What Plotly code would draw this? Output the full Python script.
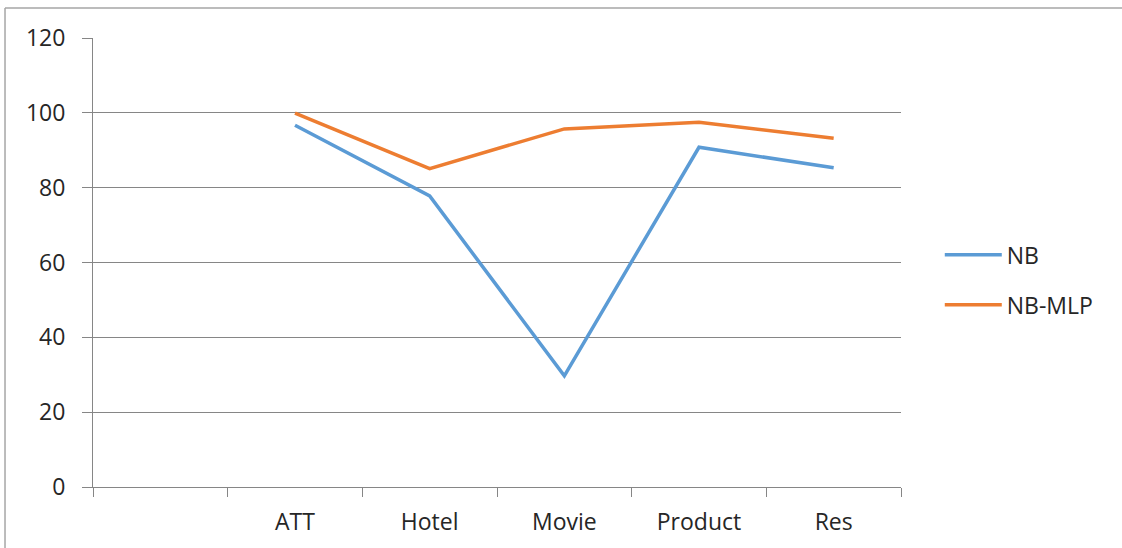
import plotly.graph_objects as go

categories = [" ", "ATT", "Hotel", "Movie", "Product", "Res"]
datasets = ["ATT", "Hotel", "Movie", "Product", "Res"]
nb = [96.7, 77.8, 29.7, 90.8, 85.3]
nb_mlp = [99.9, 85.1, 95.7, 97.5, 93.2]
y_ticks = [0, 20, 40, 60, 80, 100, 120]

FONT = "Open Sans"
FS = 23
fig = go.Figure()
fig.add_trace(go.Scatter(x=datasets, y=nb, mode="lines", name="NB", legendgroup="a",
                         line=dict(color="#5B9BD5", width=3.5)))
fig.add_trace(go.Scatter(x=datasets, y=nb_mlp, mode="lines", name="NB-MLP", legendgroup="b",
                         line=dict(color="#ED7D31", width=3.5)))

fig.update_layout(
    width=1122, height=548,
    margin=dict(l=93, r=221, t=38, b=61),
    paper_bgcolor="white", plot_bgcolor="white",
    font=dict(family=FONT, size=FS, color="#262626"),
    showlegend=True,
    legend=dict(x=1.048, y=0.565, xanchor="left", yanchor="top",
                traceorder="grouped", tracegroupgap=17, itemwidth=57,
                font=dict(family=FONT, size=FS, color="#262626"),
                bgcolor="rgba(0,0,0,0)"),
    xaxis=dict(type="category", categoryorder="array", categoryarray=categories,
               range=[-0.5, 5.5], showgrid=False, showline=True, linecolor="#868686",
               linewidth=1, ticks="outside", tickson="boundaries", ticklen=9,
               tickcolor="#868686", zeroline=False, fixedrange=True,
               ticklabelstandoff=14,
               tickfont=dict(family=FONT, size=FS, color="#262626")),
    yaxis=dict(range=[0, 120], tickvals=y_ticks, showgrid=True, gridcolor="#868686",
               gridwidth=1, showline=True, linecolor="#868686", linewidth=1,
               ticks="outside", ticklen=10, tickcolor="#868686", zeroline=False,
               ticklabelstandoff=12,
               tickfont=dict(family=FONT, size=FS, color="#262626")),
    shapes=[
        dict(type="line", xref="paper", yref="paper", x0=-0.1089, x1=1.28, y0=1.0668, y1=1.0668,
             line=dict(color="#A6A6A6", width=1.5)),
        dict(type="line", xref="paper", yref="paper", x0=-0.1089, x1=-0.1089, y0=-0.14, y1=1.0668,
             line=dict(color="#A6A6A6", width=1.5)),
    ],
)
fig.write_html("out.html")
